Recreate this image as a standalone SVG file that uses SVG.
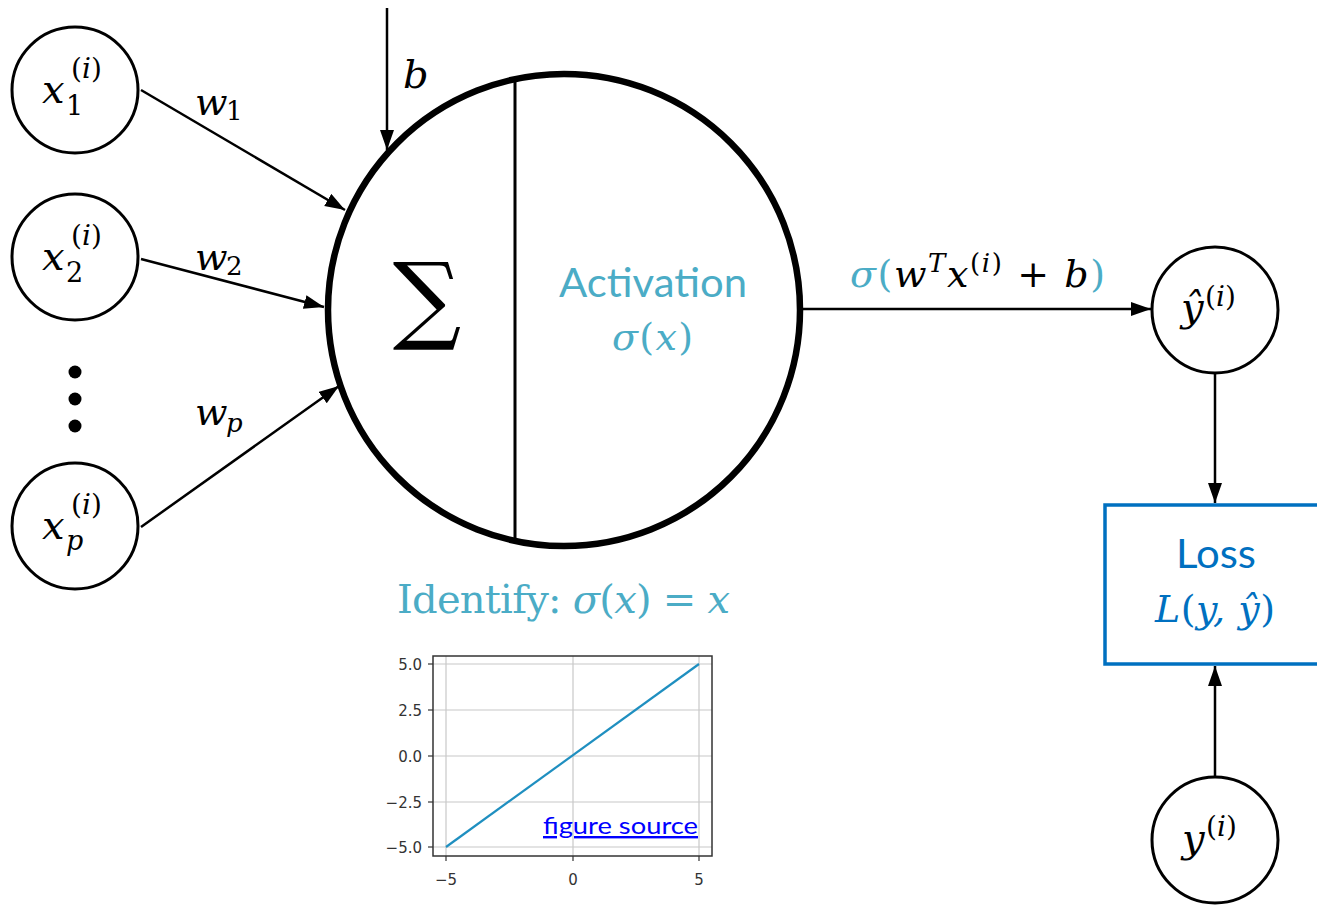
<svg xmlns="http://www.w3.org/2000/svg" width="1317" height="905" viewBox="0 0 1317 905">
<defs>
<marker id="ah" markerUnits="userSpaceOnUse" markerWidth="22" markerHeight="16" refX="20" refY="7" orient="auto">
<path d="M0,0 L20,7 L0,14 Z" fill="#000"/>
</marker>
<style>
.node{fill:#fff;stroke:#000;stroke-width:3}
.edge{stroke:#000;stroke-width:2.5;fill:none;marker-end:url(#ah)}
.m{font-family:"DejaVu Serif","Liberation Serif",serif;font-style:italic;fill:#000}
.mu{font-family:"DejaVu Serif","Liberation Serif",serif;font-style:normal}
.teal{fill:#4BACC6}
.blue{fill:#0070C0}
.sans{font-family:Lato,"Noto Sans",sans-serif}
.tick{font-family:"DejaVu Sans",sans-serif;font-size:15px;fill:#333}
.grid{stroke:#c8c8c8;stroke-width:1.2}
</style>
</defs>
<rect width="1317" height="905" fill="#fff"/>

<g id="connectors">
<line class="edge" x1="141" y1="90" x2="345" y2="210"/>
<line class="edge" x1="141" y1="259" x2="324" y2="307"/>
<line class="edge" x1="141" y1="527" x2="339" y2="386"/>
<line class="edge" x1="387" y1="8" x2="387" y2="150"/>
<line class="edge" x1="803" y1="309" x2="1151" y2="309"/>
<line class="edge" x1="1215" y1="373" x2="1215" y2="503"/>
<line class="edge" x1="1215" y1="776" x2="1215" y2="666"/>
<text class="m" x="195" y="115" font-size="38">w</text>
<text class="mu" x="226" y="120" font-size="26">1</text>
<text class="m" x="195" y="270" font-size="38">w</text>
<text class="mu" x="226" y="275" font-size="26">2</text>
<text class="m" x="195" y="425" font-size="38">w</text>
<text class="m" x="226" y="432" font-size="26">p</text>
<text class="m" x="403" y="88" font-size="40">b</text>
<text class="m" x="850" y="287" font-size="38" textLength="255" lengthAdjust="spacing"><tspan class="teal">σ</tspan><tspan class="teal mu">(</tspan>w<tspan font-size="26" dy="-15">T</tspan><tspan dy="15">x</tspan><tspan font-size="26" dy="-15" class="mu">(</tspan><tspan font-size="26">i</tspan><tspan font-size="26" class="mu">)</tspan><tspan dy="15" class="mu"> + </tspan>b<tspan class="teal mu">)</tspan></text>
</g>

<g id="x1">
<circle class="node" cx="75" cy="90" r="63"/>
<text class="m" x="42" y="103" font-size="40">x</text>
<text class="m" x="71" y="78" font-size="28"><tspan class="mu">(</tspan>i<tspan class="mu">)</tspan></text>
<text class="mu" x="66" y="115" font-size="27">1</text>
</g>
<g id="x2">
<circle class="node" cx="75" cy="257" r="63"/>
<text class="m" x="42" y="270" font-size="40">x</text>
<text class="m" x="71" y="245" font-size="28"><tspan class="mu">(</tspan>i<tspan class="mu">)</tspan></text>
<text class="mu" x="66" y="282" font-size="27">2</text>
</g>
<g id="dots">
<circle cx="75" cy="372" r="6.5"/>
<circle cx="75" cy="399" r="6.5"/>
<circle cx="75" cy="426" r="6.5"/>
</g>
<g id="xp">
<circle class="node" cx="75" cy="526" r="63"/>
<text class="m" x="42" y="539" font-size="40">x</text>
<text class="m" x="71" y="514" font-size="28"><tspan class="mu">(</tspan>i<tspan class="mu">)</tspan></text>
<text class="m" x="66" y="550" font-size="27">p</text>
</g>

<g id="neuron">
<circle cx="564" cy="310" r="236" fill="#fff" stroke="#000" stroke-width="6.5"/>
<line x1="515" y1="78" x2="515" y2="540" stroke="#000" stroke-width="3"/>
<text x="427" y="331" font-size="96" text-anchor="middle" font-family="'DejaVu Serif',serif" fill="#000">∑</text>
<text class="sans teal" x="559" y="297" font-size="40" textLength="188" lengthAdjust="spacingAndGlyphs">Activation</text>
<text class="m teal" x="612" y="350" font-size="38" textLength="81" lengthAdjust="spacing"><tspan class="teal">σ</tspan><tspan class="mu">(</tspan>x<tspan class="mu">)</tspan></text>
</g>

<g id="yhat">
<circle class="node" cx="1215" cy="310" r="63"/>
<text class="m" x="1181" y="321" font-size="40">ŷ</text>
<text class="m" x="1205" y="306" font-size="28"><tspan class="mu">(</tspan>i<tspan class="mu">)</tspan></text>
</g>

<g id="loss">
<rect x="1105" y="505" width="220" height="159" fill="#fff" stroke="#0070C0" stroke-width="3.5"/>
<text class="sans blue" x="1176" y="568" font-size="41" textLength="80" lengthAdjust="spacingAndGlyphs">Loss</text>
<text class="m blue" x="1155" y="622" font-size="38" textLength="120" lengthAdjust="spacing">L<tspan class="mu">(</tspan>y, ŷ<tspan class="mu">)</tspan></text>
</g>

<g id="y">
<circle class="node" cx="1215" cy="840" r="63"/>
<text class="m" x="1182" y="852" font-size="40">y</text>
<text class="m" x="1206" y="836" font-size="28"><tspan class="mu">(</tspan>i<tspan class="mu">)</tspan></text>
</g>

<g id="caption">
<text x="397" y="613" font-size="40" class="teal mu" textLength="333" lengthAdjust="spacing">Identify: <tspan class="m teal">σ</tspan>(<tspan class="m teal">x</tspan>) = <tspan class="m teal">x</tspan></text>
</g>

<g id="chart">
<line class="grid" x1="446" y1="656" x2="446" y2="856"/>
<line class="grid" x1="573" y1="656" x2="573" y2="856"/>
<line class="grid" x1="699" y1="656" x2="699" y2="856"/>
<line class="grid" x1="433" y1="664" x2="712" y2="664"/>
<line class="grid" x1="433" y1="710" x2="712" y2="710"/>
<line class="grid" x1="433" y1="756" x2="712" y2="756"/>
<line class="grid" x1="433" y1="802" x2="712" y2="802"/>
<line class="grid" x1="433" y1="847" x2="712" y2="847"/>
<rect x="433" y="656" width="279" height="200" fill="none" stroke="#333" stroke-width="1.5"/>
<line x1="446" y1="847" x2="699" y2="664" stroke="#1f8fc0" stroke-width="2.2"/>
<g stroke="#333" stroke-width="1.2">
<line x1="428" y1="664" x2="433" y2="664"/><line x1="428" y1="710" x2="433" y2="710"/><line x1="428" y1="756" x2="433" y2="756"/><line x1="428" y1="802" x2="433" y2="802"/><line x1="428" y1="847" x2="433" y2="847"/>
<line x1="446" y1="856" x2="446" y2="861"/><line x1="573" y1="856" x2="573" y2="861"/><line x1="699" y1="856" x2="699" y2="861"/>
</g>
<text class="tick" x="422" y="670" text-anchor="end" font-size="16">5.0</text>
<text class="tick" x="422" y="716" text-anchor="end">2.5</text>
<text class="tick" x="422" y="762" text-anchor="end">0.0</text>
<text class="tick" x="422" y="808" text-anchor="end">−2.5</text>
<text class="tick" x="422" y="853" text-anchor="end">−5.0</text>
<text class="tick" x="446" y="885" text-anchor="middle">−5</text>
<text class="tick" x="573" y="885" text-anchor="middle">0</text>
<text class="tick" x="699" y="885" text-anchor="middle">5</text>
<text x="543" y="834" font-size="24" textLength="155" lengthAdjust="spacingAndGlyphs" fill="#0000FF" font-family="Lato,'Noto Sans',sans-serif" text-decoration="underline">figure source</text>
</g>
</svg>
